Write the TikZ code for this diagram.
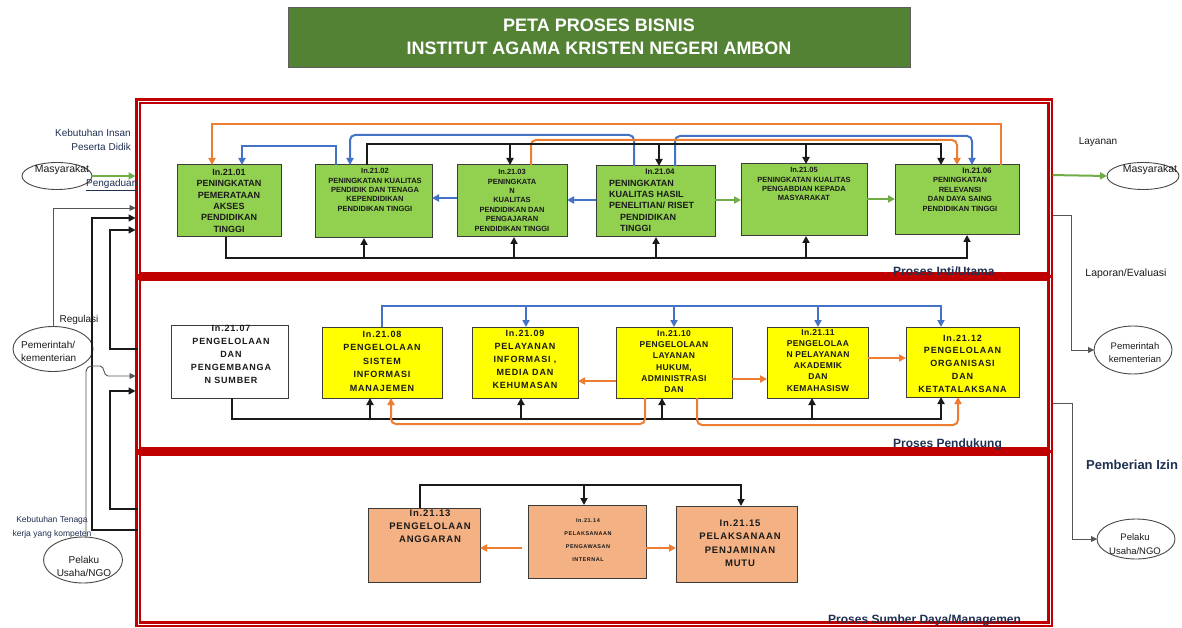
\documentclass[tikz,border=0pt]{standalone}
\usepackage{fontspec}
\setmainfont{Liberation Sans}
\newfontfamily\spfont[LetterSpace=9]{Liberation Sans}
\newfontfamily\spfontb[LetterSpace=4]{Liberation Sans}
\usetikzlibrary{arrows.meta,shapes.geometric}
\definecolor{gfill}{HTML}{92D050}
\definecolor{yfill}{HTML}{FFFF00}
\definecolor{sfill}{HTML}{F4B183}
\definecolor{tgreen}{HTML}{548235}
\definecolor{fred}{HTML}{C00000}
\definecolor{lblue}{HTML}{4472C4}
\definecolor{lorange}{HTML}{ED7D31}
\definecolor{lgreen}{HTML}{70AD47}
\definecolor{navy}{HTML}{1F3050}
\definecolor{ink}{HTML}{1A1A1A}
\definecolor{sgray}{HTML}{555555}
\tikzset{
  boxbase/.style={draw=ink!85, line width=1pt, inner sep=0, outer sep=0},
  boxg/.style={boxbase, fill=gfill},
  boxy/.style={boxbase, fill=yfill},
  boxw/.style={boxbase, fill=white},
  boxs/.style={boxbase, fill=sfill},
  panel/.style={draw=fred, double=white, double distance=0.7pt, line width=2.4pt, inner sep=0, outer sep=0},
  sep/.style={draw=fred, line width=6pt},
  txt/.style={inner sep=0, align=center, text=ink},
  stxt/.style={inner sep=0, text=ink, font=\fontsize{10}{13}\selectfont},
  ell/.style={draw=ink!80, ellipse, line width=0.9pt, inner sep=0, outer sep=0},
  tip/.style={-{Triangle[length=7pt,width=7pt]}},
  kline/.style={line width=2pt, draw=ink},
  karr/.style={kline, tip},
  bline/.style={line width=2pt, draw=lblue},
  barr/.style={bline, tip},
  oline/.style={line width=2pt, draw=lorange},
  oarr/.style={oline, tip},
  garr/.style={line width=2pt, draw=lgreen, tip},
  sarr/.style={line width=0.9pt, draw=sgray, -{Triangle[length=6pt,width=6pt]}},
  karr2/.style={line width=1.4pt, draw=ink, -{Triangle[length=7pt,width=7pt]}},
  plabel/.style={inner sep=0, anchor=west, text=navy, font=\bfseries\fontsize{12}{14}\selectfont}
}
\begin{document}
\begin{tikzpicture}[x=1pt,y=-1pt]
\useasboundingbox (0,0) rectangle (1182,628);
\fill[white] (0,0) rectangle (1182,628);

% title
\node[draw=ink!70, line width=1pt, fill=tgreen, minimum width=622, minimum height=60, inner sep=0] (title) at (599,38) {};
\node[inner sep=0, align=center, text=white, font=\bfseries\fontsize{18}{23}\selectfont] (titletxt) at (599,37) {PETA PROSES BISNIS\\INSTITUT AGAMA KRISTEN NEGERI AMBON};

% panels
\node[panel, minimum width=912, minimum height=174] (P1) at (594,188) {};
\node[panel, minimum width=912, minimum height=172] (P2) at (594,364) {};
\node[panel, minimum width=912, minimum height=171] (P3) at (594,538.5) {};
\draw[sep] ([yshift=-1.5pt]P1.south west) -- ([yshift=-1.5pt]P1.south east);
\draw[sep] ([yshift=-1.5pt]P2.south west) -- ([yshift=-1.5pt]P2.south east);

% ---------- top row ----------
\node[boxg, minimum width=104, minimum height=72] (b1) at (229,201) {};
\node[boxg, minimum width=117, minimum height=73] (b2) at (373.5,201.5) {};
\node[boxg, minimum width=110, minimum height=72] (b3) at (512,201) {};
\node[boxg, minimum width=119, minimum height=71] (b4) at (655.5,201.5) {};
\node[boxg, minimum width=126, minimum height=72] (b5) at (804,200) {};
\node[boxg, minimum width=124, minimum height=70] (b6) at (957,200) {};

\node[txt, anchor=north, font=\bfseries\fontsize{9}{11.4}\selectfont] (t1) at (229,168.8) {In.21.01\\PENINGKATAN\\PEMERATAAN\\AKSES\\PENDIDIKAN\\TINGGI};
\node[txt, anchor=north, font=\bfseries\fontsize{7.5}{9.4}\selectfont] (t2) at (375,168.3) {In.21.02\\PENINGKATAN KUALITAS\\PENDIDIK DAN TENAGA\\KEPENDIDIKAN\\PENDIDIKAN TINGGI};
\node[txt, anchor=north, font=\bfseries\fontsize{7.5}{9.4}\selectfont] (t3) at (512,169.3) {In.21.03\\PENINGKATA\\N\\KUALITAS\\PENDIDIKAN DAN\\PENGAJARAN\\PENDIDIKAN TINGGI};
\node[txt, anchor=north, font=\bfseries\fontsize{8}{10}\selectfont] (t4a) at (660,169) {In.21.04};
\node[txt, align=left, anchor=north west, font=\bfseries\fontsize{9}{11.4}\selectfont] (t4b) at (609,179.7) {PENINGKATAN\\KUALITAS HASIL\\PENELITIAN/ RISET};
\node[txt, align=left, anchor=north west, font=\bfseries\fontsize{9}{11.4}\selectfont] (t4c) at (620,214.2) {PENDIDIKAN\\TINGGI};
\node[txt, anchor=north, font=\bfseries\fontsize{7.5}{9.4}\selectfont] (t5) at (804,167.3) {In.21.05\\PENINGKATAN KUALITAS\\PENGABDIAN KEPADA\\MASYARAKAT};
\node[txt, anchor=north, font=\bfseries\fontsize{8}{10}\selectfont] (t6a) at (977,168) {In.21.06};
\node[txt, anchor=north, font=\bfseries\fontsize{7.5}{9.6}\selectfont] (t6b) at (960,177.3) {PENINGKATAN\\RELEVANSI\\DAN DAYA SAING\\PENDIDIKAN TINGGI};

% top row connectors
\draw[oarr] (b6.north -| 1001,0) -- (1001,124) -- (212,124) -- (b1.north -| 212,0);
\draw[barr] (b2.north -| 336,0) -- (336,146) -- (242,146) -- (b1.north -| 242,0);
\draw[barr, rounded corners=5] (b4.north -| 634,0) -- (634,135) -- (350,135) -- (b2.north -| 350,0);
\draw[barr, rounded corners=5] (b4.north -| 675,0) -- (675,136) -- (972,136) -- (b6.north -| 972,0);
\draw[oarr, rounded corners=5] (b3.north -| 531,0) -- (531,140) -- (957,140) -- (b6.north -| 957,0);
\coordinate (busT) at (0,144);
\draw[karr] (b2.north -| 367,0) -- (367,144) -- (941,144) -- (b6.north -| 941,0);
\draw[karr] (busT -| 510,0) -- (b3.north -| 510,0);
\draw[karr] (busT -| 659,0) -- (b4.north -| 659,0);
\draw[karr] (busT -| 806,0) -- (b5.north -| 806,0);
\coordinate (busB) at (0,258);
\draw[karr] (b1.south -| 226,0) -- (226,258) -- (967,258) -- (b6.south -| 967,0);
\draw[karr] (busB -| 364,0) -- (b2.south -| 364,0);
\draw[karr] (busB -| 514,0) -- (b3.south -| 514,0);
\draw[karr] (busB -| 656,0) -- (b4.south -| 656,0);
\draw[karr] (busB -| 806,0) -- (b5.south -| 806,0);
\draw[barr] (b3.west |- 0,198) -- (b2.east |- 0,198);
\draw[barr] (b4.west |- 0,200) -- (b3.east |- 0,200);
\draw[garr] (b4.east |- 0,200) -- (b5.west |- 0,200);
\draw[garr] (b5.east |- 0,199) -- (b6.west |- 0,199);

% ---------- middle row ----------
\node[boxw, minimum width=117, minimum height=73] (m7) at (229.5,361.5) {};
\node[boxy, minimum width=120, minimum height=71] (m8) at (382,362.5) {};
\node[boxy, minimum width=106, minimum height=71] (m9) at (525,362.5) {};
\node[boxy, minimum width=116, minimum height=71] (m10) at (674,362.5) {};
\node[boxy, minimum width=101, minimum height=71] (m11) at (817.5,362.5) {};
\node[boxy, minimum width=113, minimum height=70] (m12) at (962.5,362) {};

\node[txt, anchor=north, font=\spfont\bfseries\fontsize{9}{13.2}\selectfont] (t7) at (231,324.7) {In.21.07\\PENGELOLAAN\\DAN\\PENGEMBANGA\\N SUMBER};
\node[txt, anchor=north, font=\spfont\bfseries\fontsize{9}{13.5}\selectfont] (t8) at (382,330.7) {In.21.08\\PENGELOLAAN\\SISTEM\\INFORMASI\\MANAJEMEN};
\node[txt, anchor=north, font=\spfont\bfseries\fontsize{9}{13.2}\selectfont] (t9) at (525,329.7) {In.21.09\\PELAYANAN\\INFORMASI ,\\MEDIA DAN\\KEHUMASAN};
\node[txt, anchor=north, font=\spfontb\bfseries\fontsize{8.5}{11.3}\selectfont] (t10) at (674,330) {In.21.10\\PENGELOLAAN\\LAYANAN\\HUKUM,\\ADMINISTRASI\\DAN};
\node[txt, anchor=north, font=\spfontb\bfseries\fontsize{8.5}{11.2}\selectfont] (t11) at (818,329) {In.21.11\\PENGELOLAA\\N PELAYANAN\\AKADEMIK\\DAN\\KEMAHASISW};
\node[txt, anchor=north, font=\spfont\bfseries\fontsize{9}{12.8}\selectfont] (t12) at (962.5,334.7) {In.21.12\\PENGELOLAAN\\ORGANISASI\\DAN\\KETATALAKSANA};

% middle connectors
\coordinate (busM) at (0,306);
\draw[barr] (m8.north -| 382,0) -- (382,306) -- (941,306) -- (m12.north -| 941,0);
\draw[barr] (busM -| 526,0) -- (m9.north -| 526,0);
\draw[barr] (busM -| 674,0) -- (m10.north -| 674,0);
\draw[barr] (busM -| 818,0) -- (m11.north -| 818,0);
\coordinate (busK) at (0,419);
\draw[karr] (m7.south -| 232,0) -- (232,419) -- (941,419) -- (m12.south -| 941,0);
\draw[karr] (busK -| 370,0) -- (m8.south -| 370,0);
\draw[karr] (busK -| 521,0) -- (m9.south -| 521,0);
\draw[karr] (busK -| 662,0) -- (m10.south -| 662,0);
\draw[karr] (busK -| 812,0) -- (m11.south -| 812,0);
\draw[oarr] (m10.west |- 0,381) -- (m9.east |- 0,381);
\draw[oarr] (m10.east |- 0,379) -- (m11.west |- 0,379);
\draw[oarr] (m11.east |- 0,358) -- (m12.west |- 0,358);
\draw[oarr, rounded corners=5] (m10.south -| 645,0) -- (645,424) -- (391,424) -- (m8.south -| 391,0);
\draw[oarr, rounded corners=5] (m10.south -| 697,0) -- (697,425) -- (958,425) -- (m12.south -| 958,0);

% ---------- bottom row ----------
\node[boxs, minimum width=112, minimum height=74] (r13) at (424,545) {};
\node[boxs, minimum width=118, minimum height=73] (r14) at (587,541.5) {};
\node[boxs, minimum width=121, minimum height=76] (r15) at (736.5,544) {};
\node[txt, anchor=north, font=\spfont\bfseries\fontsize{9.5}{13}\selectfont] (t13) at (430,509.6) {In.21.13\\PENGELOLAAN\\ANGGARAN};
\node[txt, anchor=north, font=\spfont\bfseries\fontsize{5.5}{13}\selectfont] (t14) at (588,518) {In.21.14\\PELAKSANAAN\\PENGAWASAN\\INTERNAL};
\node[txt, anchor=north, font=\spfont\bfseries\fontsize{9.5}{13.5}\selectfont] (t15) at (740,519.6) {In.21.15\\PELAKSANAAN\\PENJAMINAN\\MUTU};

\draw[karr] (r13.north -| 420,0) -- (420,485) -- (741,485) -- (r15.north -| 741,0);
\coordinate (busR) at (0,485);
\draw[karr] (busR -| 584,0) -- (r14.north -| 584,0);
\draw[oarr, shorten <=6pt] (r14.west |- 0,548) -- (r13.east |- 0,548);
\draw[oarr] (r14.east |- 0,548) -- (r15.west |- 0,548);

% panel labels
\node[plabel] (L1) at (893,271) {Proses Inti/Utama};
\node[plabel] (L2) at (893,444) {Proses Pendukung};
\node[plabel] (L3) at (828,620) {Proses Sumber Daya/Managemen};

% ---------- left side ----------
\node[stxt, text=navy, align=right, anchor=east, font=\fontsize{10}{14}\selectfont] (kin) at (131,140) {Kebutuhan Insan\\Peserta Didik};
\node[ell, minimum width=70, minimum height=27] (eM) at (57,176) {};
\node[stxt, font=\fontsize{10.5}{13}\selectfont] (eMt) at (62,170) {Masyarakat};
\node[stxt, text=navy, anchor=west] (peng) at (86,185) {\underline{Pengaduan}};
\node[stxt] (reg) at (79,320) {Regulasi};
\node[ell, minimum width=80, minimum height=45] (eP) at (53,349) {};
\node[stxt, align=left, anchor=west] (ePt) at (21,351.5) {Pemerintah/\\kementerian};
\node[stxt, text=navy, align=center, font=\fontsize{8.5}{14}\selectfont] (kten) at (52,527) {Kebutuhan Tenaga\\kerja yang kompeten};
\node[ell, minimum width=79, minimum height=46] (eU) at (83,560) {};
\node[stxt, align=center] (eUt) at (84,566.5) {Pelaku\\Usaha/NGO};

\draw[garr, shorten >=2.5pt] (eM.east) -- (P1.west |- eM.east);
\draw[sarr, shorten >=2.5pt] (eP.north) -- (53,208) -- (P1.west |- 0,208);
\draw[karr2, shorten >=2.5pt] (P3.west |- 0,530) -- (92,530) -- (92,218) -- (P1.west |- 0,218);
\draw[karr2, shorten >=2.5pt] (P2.west |- 0,349) -- (110,349) -- (110,230) -- (P1.west |- 0,230);
\draw[sarr, shorten >=2.5pt] (eU.north -| 86,0) -- (86,372) to[out=90,in=180] (92,366) -- (100,366) to[out=0,in=180] (108,376) -- (P2.west |- 0,376);
\draw[karr2, shorten >=2.5pt] (P3.west |- 0,509) -- (110,509) -- (110,391) -- (P2.west |- 0,391);

% ---------- right side ----------
\node[stxt] (lay) at (1098,142) {Layanan};
\node[ell, minimum width=72, minimum height=27] (eMR) at (1143,176) {};
\node[stxt, font=\fontsize{10.5}{13}\selectfont] (eMRt) at (1150,170) {Masyarakat};
\node[stxt, font=\fontsize{10.5}{13}\selectfont] (lap) at (1126,274) {Laporan/Evaluasi};
\node[ell, minimum width=78, minimum height=48] (ePR) at (1133,350) {};
\node[stxt, align=center, font=\fontsize{9.5}{13}\selectfont] (ePRt) at (1135,352.5) {Pemerintah\\kementerian};
\node[stxt, anchor=west, text=navy, font=\bfseries\fontsize{13}{15}\selectfont] (izin) at (1086,465) {Pemberian Izin};
\node[ell, minimum width=78, minimum height=40] (eUR) at (1136,539) {};
\node[stxt, align=center, font=\fontsize{9.5}{14}\selectfont] (eURt) at (1135,544.5) {Pelaku\\Usaha/NGO};

\draw[garr, shorten <=2.5pt] (P1.east |- 0,175) -- (eMR.west);
\draw[sarr, shorten <=2.5pt] (P1.east |- 0,215) -- (1071,215) -- (1071,350) -- (ePR.west);
\draw[sarr, shorten <=2.5pt] (P2.east |- 0,403) -- (1072,403) -- (1072,539) -- (eUR.west);
\end{tikzpicture}
\end{document}
